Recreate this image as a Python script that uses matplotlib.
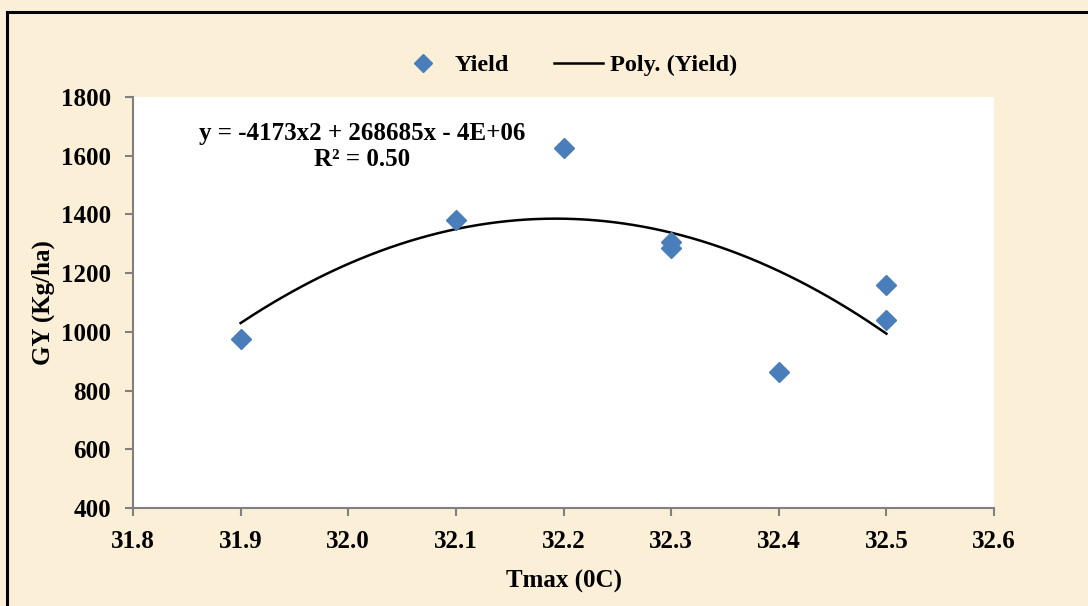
import numpy as np
import matplotlib
matplotlib.use("Agg")
import matplotlib.pyplot as plt
from matplotlib.lines import Line2D

tmax = [31.9, 32.1, 32.2, 32.3, 32.3, 32.4, 32.5, 32.5]
yield_vals = [975, 1382, 1625, 1305, 1285, 862, 1160, 1042]
x_ticks = [31.8, 31.9, 32.0, 32.1, 32.2, 32.3, 32.4, 32.5, 32.6]
y_ticks = [400, 600, 800, 1000, 1200, 1400, 1600, 1800]

plt.rcParams['font.family'] = ['Liberation Serif', 'DejaVu Serif']
plt.rcParams['font.weight'] = 'bold'

bg = '#FBEFD7'
fig = plt.figure(figsize=(10.88, 6.06), dpi=100, facecolor=bg)
ax = fig.add_axes([133/1088, 1-508/606, (994-133)/1088, (508-97)/606])
ax.set_facecolor('white')

blue = '#4A7EBB'
ax.plot(tmax, yield_vals, linestyle='none', marker='D', ms=10, color=blue,
        label='Yield', zorder=3)

coef = np.polyfit(tmax, yield_vals, 2)
xs = np.linspace(min(tmax), max(tmax), 200)
ax.plot(xs, np.polyval(coef, xs), color='black', lw=1.8, label='Poly. (Yield)', zorder=2)

ax.set_xlim(31.8, 32.6)
ax.set_ylim(400, 1800)
ax.set_xticks(x_ticks)
ax.set_xticklabels([f'{v:.1f}' for v in x_ticks])
ax.set_yticks(y_ticks)
ax.tick_params(axis='both', labelsize=18, colors='#808080', length=6, width=1.5,
               direction='out', labelcolor='black')
for lab in ax.get_xticklabels() + ax.get_yticklabels():
    lab.set_fontweight('bold')
ax.tick_params(axis='x', pad=10)
ax.tick_params(axis='y', pad=10)
for s in ['top', 'right']:
    ax.spines[s].set_visible(False)
for s in ['left', 'bottom']:
    ax.spines[s].set_color('#808080')
    ax.spines[s].set_linewidth(1.5)

ax.set_xlabel('Tmax (0C)', fontsize=18, fontweight='bold', labelpad=12)
ax.set_ylabel('GY (Kg/ha)', fontsize=18, fontweight='bold', labelpad=4)

ax.text(0.266, 0.88, 'y = -4173x2 + 268685x - 4E+06\nR² = 0.50', transform=ax.transAxes,
        ha='center', va='center', fontsize=18, fontweight='bold', linespacing=1.2)

handles = [Line2D([], [], linestyle='none', marker='D', ms=9, color=blue),
           Line2D([], [], color='black', lw=1.8)]
fig.legend(handles, ['Yield', 'Poly. (Yield)'], loc='center', bbox_to_anchor=(568/1088, 1-65/606),
           ncol=2, frameon=False, prop={'size': 17.5, 'weight': 'bold'}, handlelength=2.0,
           handletextpad=0.3, columnspacing=1.85)

# figure frame (left and top edges visible)
fig.add_artist(Line2D([7/1088, 7/1088], [0, 1-12/606], transform=fig.transFigure, color='black', lw=2.2))
fig.add_artist(Line2D([7/1088, 1], [1-12/606, 1-12/606], transform=fig.transFigure, color='black', lw=2.2))

fig.savefig('out.png', dpi=100, facecolor=bg)
